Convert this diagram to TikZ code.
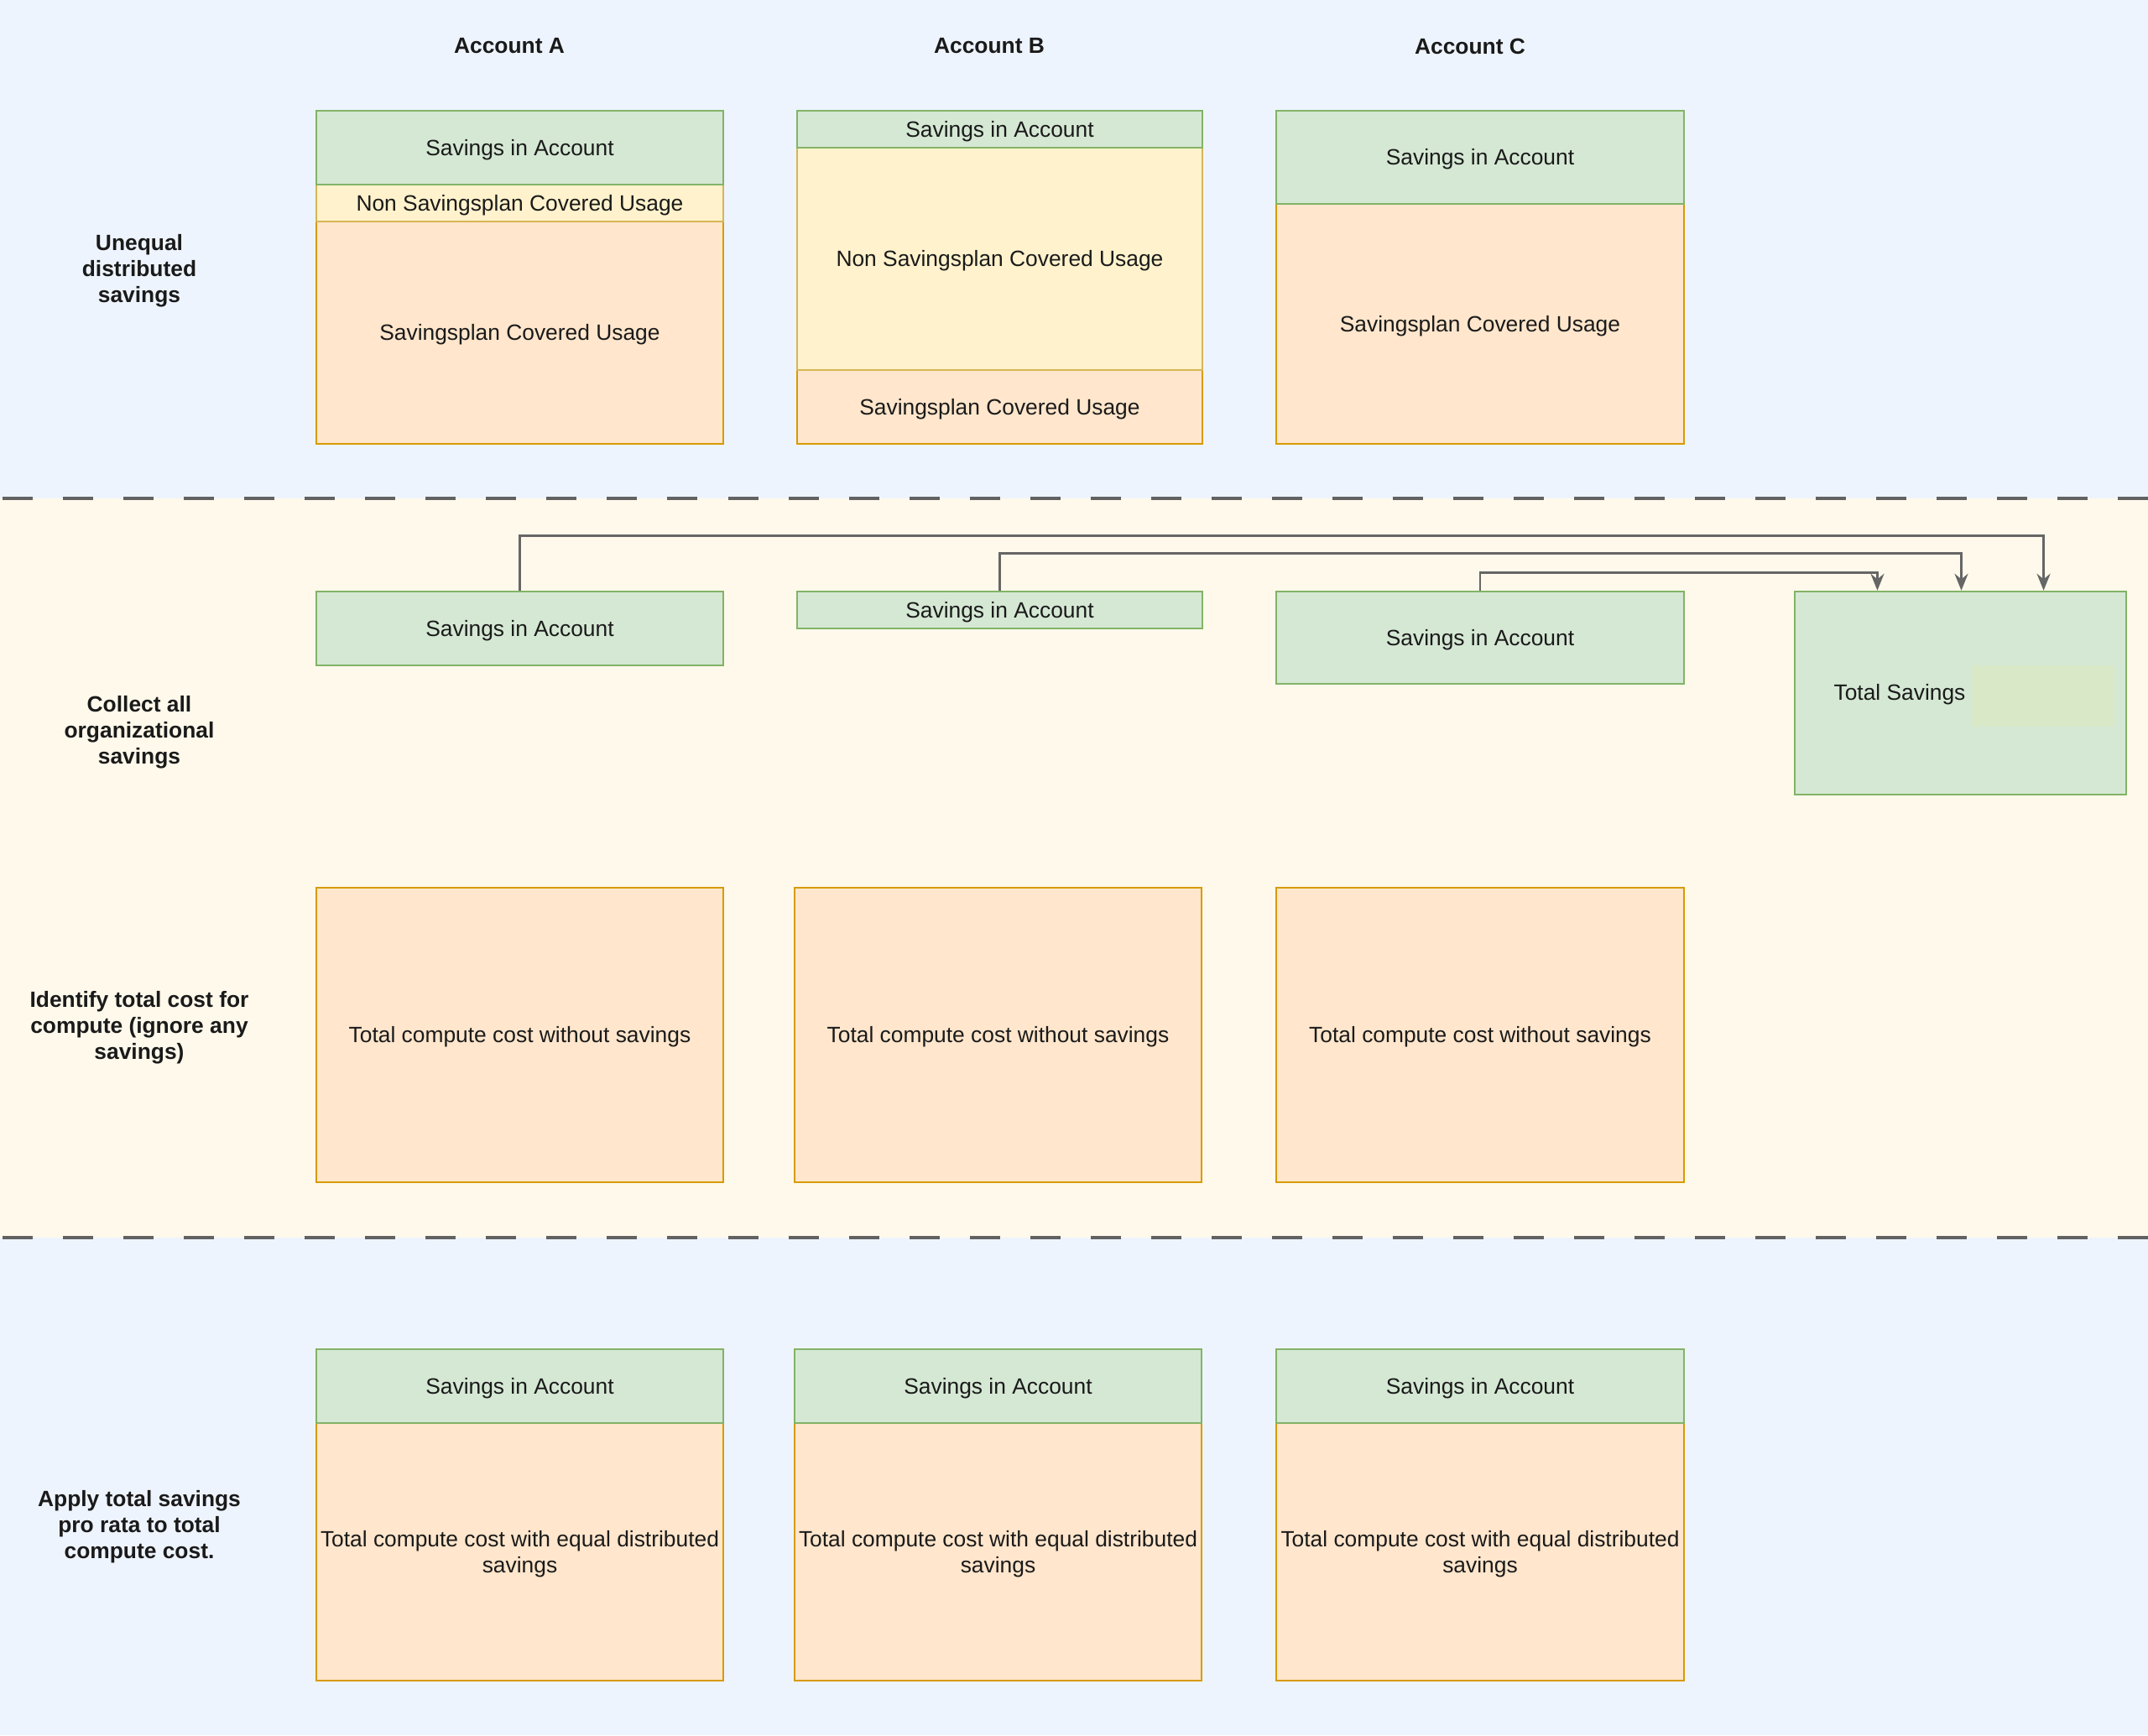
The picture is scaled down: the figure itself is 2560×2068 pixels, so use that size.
\documentclass[tikz,border=0pt]{standalone}
\usepackage{fontspec}
\setmainfont{Liberation Sans}
\usetikzlibrary{fit,arrows.meta}
\definecolor{grnF}{HTML}{D5E8D4}
\definecolor{grnD}{HTML}{82B366}
\definecolor{yelF}{HTML}{FFF2CC}
\definecolor{yelD}{HTML}{D6B656}
\definecolor{orgF}{HTML}{FFE6CC}
\definecolor{orgD}{HTML}{D79B00}
\definecolor{bgBlue}{HTML}{EEF4FE}
\definecolor{bgYel}{HTML}{FEF9EB}
\definecolor{lineC}{HTML}{666666}
\definecolor{sepC}{HTML}{626262}
\definecolor{innerC}{HTML}{D9E9C8}
\definecolor{txtC}{HTML}{1A1A1A}
\newcommand\dfont{\fontsize{7.5}{8.8}\selectfont}
\newcommand\dfontb{\fontsize{7.5}{8.8}\selectfont\bfseries}
\tikzset{
  every label/.style={font=\dfont, align=center, text=txtC, inner sep=0pt, yshift=-0.025cm},
  bx/.style={draw, line width=0.7pt, inner sep=0pt},
  grn/.style={bx, fill=grnF, draw=grnD},
  yel/.style={bx, fill=yelF, draw=yelD},
  org/.style={bx, fill=orgF, draw=orgD},
  lbl/.style={font=\dfontb, align=center, text=txtC, inner sep=0pt},
  conn/.style={draw=lineC, line width=0.8pt, -{Stealth[length=0.2cm,width=0.16cm]}},
  sepline/.style={draw=sepC, line width=1.2pt, dash pattern=on 0.36cm off 0.36cm}
}
\begin{document}
\begin{tikzpicture}[x=0.01cm,y=-0.01cm]
\path[use as bounding box] (0,0) rectangle (2560,2068);
% bands
\fill[bgBlue] (0,0) rectangle (2560,594);
\fill[bgYel] (0,594) rectangle (2560,1475);
\fill[bgBlue] (0,1475) rectangle (2560,2068);
\draw[sepline] (3,594) -- (2560,594);
\draw[sepline] (3,1475) -- (2560,1475);
% headers
\node[lbl] (hA) at (607,55) {Account A};
\node[lbl] (hB) at (1179,55) {Account B};
\node[lbl] (hC) at (1752,55) {Account C};
% row labels
\node[lbl] (r1) at (166,323) {Unequal\\distributed\\savings};
\node[lbl] (r2) at (166,873) {Collect all\\organizational\\savings};
\node[lbl] (r3) at (166,1225) {Identify total cost for\\compute (ignore any\\savings)};
\node[lbl] (r4) at (166,1820) {Apply total savings\\pro rata to total\\compute cost.};
% row 1
\node[org, fit={(377,264)(862,529)}, label=center:{Savingsplan Covered Usage}] (a1o) {};
\node[yel, fit={(377,220)(862,264)}, label=center:{Non Savingsplan Covered Usage}] (a1y) {};
\node[grn, fit={(377,132)(862,220)}, label=center:{Savings in Account}] (a1g) {};
\node[org, fit={(950,441)(1433,529)}, label=center:{Savingsplan Covered Usage}] (b1o) {};
\node[yel, fit={(950,176)(1433,441)}, label=center:{Non Savingsplan Covered Usage}] (b1y) {};
\node[grn, fit={(950,132)(1433,176)}, label=center:{Savings in Account}] (b1g) {};
\node[org, fit={(1521,243)(2007,529)}, label=center:{Savingsplan Covered Usage}] (c1o) {};
\node[grn, fit={(1521,132)(2007,243)}, label=center:{Savings in Account}] (c1g) {};
% row 2
\node[grn, fit={(377,705)(862,793)}, label=center:{Savings in Account}] (a2) {};
\node[grn, fit={(950,705)(1433,749)}, label=center:{Savings in Account}] (b2) {};
\node[grn, fit={(1521,705)(2007,815)}, label=center:{Savings in Account}] (c2) {};
\node[grn, fit={(2139,705)(2534,947)}] (tot) {};
\fill[innerC] (2349,793) rectangle (2520,866);
\node[font=\dfont, text=txtC, inner sep=0pt] (totl) at (2264,828) {Total Savings};
% connectors
\draw[conn] (a2.north) |- ([xshift=0.99cm,yshift=0.65cm]tot.north) -- ([xshift=0.99cm]tot.north);
\draw[conn] (b2.north) |- ([xshift=0.01cm,yshift=0.44cm]tot.north) -- ([xshift=0.01cm]tot.north);
\draw[conn] (c2.north) |- ([xshift=-0.99cm,yshift=0.21cm]tot.north) -- ([xshift=-0.99cm]tot.north);
% row 3
\node[org, fit={(377,1058)(862,1409)}, label=center:{Total compute cost without savings}] (a3) {};
\node[org, fit={(947,1058)(1432,1409)}, label=center:{Total compute cost without savings}] (b3) {};
\node[org, fit={(1521,1058)(2007,1409)}, label=center:{Total compute cost without savings}] (c3) {};
% row 4
\node[org, fit={(377,1696)(862,2003)}, label=center:{Total compute cost with equal distributed\\savings}] (a4o) {};
\node[grn, fit={(377,1608)(862,1696)}, label=center:{Savings in Account}] (a4g) {};
\node[org, fit={(947,1696)(1432,2003)}, label=center:{Total compute cost with equal distributed\\savings}] (b4o) {};
\node[grn, fit={(947,1608)(1432,1696)}, label=center:{Savings in Account}] (b4g) {};
\node[org, fit={(1521,1696)(2007,2003)}, label=center:{Total compute cost with equal distributed\\savings}] (c4o) {};
\node[grn, fit={(1521,1608)(2007,1696)}, label=center:{Savings in Account}] (c4g) {};
\end{tikzpicture}
\end{document}
